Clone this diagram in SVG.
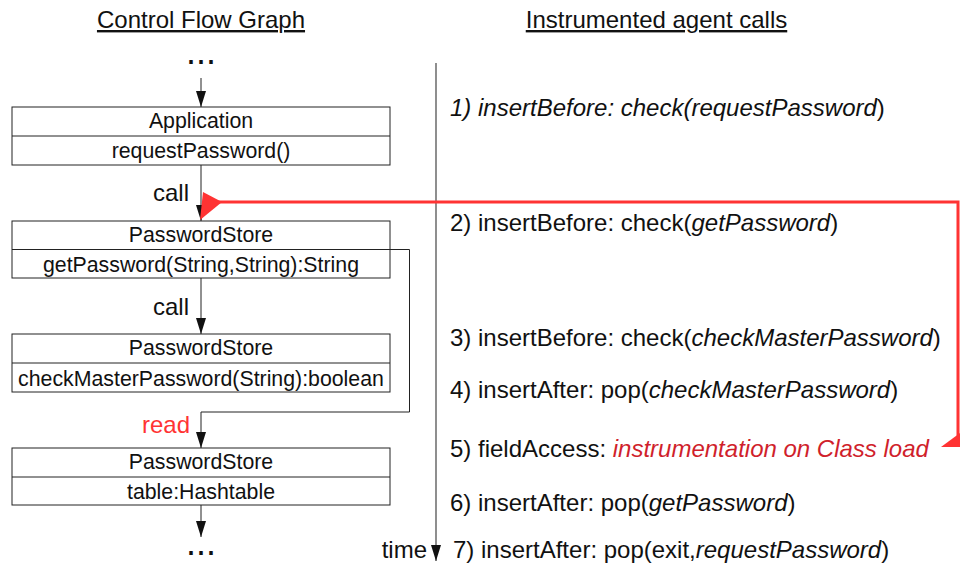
<svg xmlns="http://www.w3.org/2000/svg" width="960" height="567" viewBox="0 0 960 567">
<defs>
<style>
.t{font-family:"Liberation Sans",Arial,sans-serif;fill:#111}
.box{fill:#fff;stroke:#222;stroke-width:1}
.bx{font-size:21.3px;text-anchor:middle}
.it{font-size:24px}
.edge{stroke:#222;stroke-width:1;fill:none}
.i{font-style:italic}
</style>
<marker id="ah" viewBox="0 0 16 10" refX="16" refY="5" markerWidth="16" markerHeight="10" markerUnits="userSpaceOnUse" orient="auto">
<path d="M0,0 L16,5 L0,10 z" fill="#111"/>
</marker>
</defs>
<rect width="960" height="567" fill="#fff"/>

<g id="titles">
<text class="t" x="201" y="28" font-size="24" text-anchor="middle" text-decoration="underline">Control Flow Graph</text>
<text class="t" x="656.5" y="28" font-size="24" text-anchor="middle" text-decoration="underline">Instrumented agent calls</text>
<text class="t" x="201" y="64" font-size="36" text-anchor="middle">...</text>
<text class="t" x="201" y="555" font-size="36" text-anchor="middle">...</text>
</g>

<g id="connectors">
<path class="edge" d="M201,78 V107" marker-end="url(#ah)"/>
<path class="edge" d="M201,165 V221" marker-end="url(#ah)"/>
<path class="edge" d="M201,278 V334" marker-end="url(#ah)"/>
<path class="edge" d="M390,249.5 H409.5 V412 H201 V448" marker-end="url(#ah)"/>
<path class="edge" d="M201,505 V537" marker-end="url(#ah)"/>
<path d="M436,63 V561" stroke="#444" stroke-width="1.2" fill="none" marker-end="url(#ah)"/>
<path d="M958,440 V202 H214" stroke="#ff3333" stroke-width="3" fill="none"/>
<polygon points="941,447 960,433 960,447" fill="#ff3333"/>
<polygon points="203,192 222,202 200,220" fill="#ff3333"/>
<text class="t" x="189" y="201" font-size="24" text-anchor="end">call</text>
<text class="t" x="189" y="315" font-size="24" text-anchor="end">call</text>
<text class="t" x="190" y="433" font-size="24" text-anchor="end" style="fill:#ff3333">read</text>
<text class="t" x="427" y="558" font-size="24" text-anchor="end">time</text>
</g>

<g id="app">
<rect class="box" x="12" y="107" width="378" height="58"/>
<line class="edge" x1="12" y1="136" x2="390" y2="136"/>
<text class="t bx" x="201" y="128">Application</text>
<text class="t bx" x="201" y="158">requestPassword()</text>
</g>

<g id="ps-getpassword">
<rect class="box" x="12" y="221" width="378" height="57"/>
<line class="edge" x1="12" y1="249.5" x2="390" y2="249.5"/>
<text class="t bx" x="201" y="241.5">PasswordStore</text>
<text class="t bx" x="201" y="271.5">getPassword(String,String):String</text>
</g>

<g id="ps-checkmaster">
<rect class="box" x="12" y="334" width="378" height="58"/>
<line class="edge" x1="12" y1="363" x2="390" y2="363"/>
<text class="t bx" x="201" y="355">PasswordStore</text>
<text class="t bx" x="201" y="385.5">checkMasterPassword(String):boolean</text>
</g>

<g id="ps-table">
<rect class="box" x="12" y="448" width="378" height="57"/>
<line class="edge" x1="12" y1="477" x2="390" y2="477"/>
<text class="t bx" x="201" y="468.5">PasswordStore</text>
<text class="t bx" x="201" y="499">table:Hashtable</text>
</g>

<g id="calls">
<text class="t it" x="450" y="116"><tspan class="i">1) insertBefore: check(requestPassword</tspan>)</text>
<text class="t it" x="450" y="231">2) insertBefore: check(<tspan class="i">getPassword</tspan>)</text>
<text class="t it" x="450" y="346">3) insertBefore: check(<tspan class="i">checkMasterPassword</tspan>)</text>
<text class="t it" x="450" y="398">4) insertAfter: pop(<tspan class="i">checkMasterPassword</tspan>)</text>
<text class="t it" x="450" y="457">5) fieldAccess: <tspan class="i" style="fill:#d01f2c">instrumentation on Class load</tspan></text>
<text class="t it" x="450" y="511">6) insertAfter: pop(<tspan class="i">getPassword</tspan>)</text>
<text class="t it" x="453" y="558">7) insertAfter: pop(exit,<tspan class="i">requestPassword</tspan>)</text>
</g>
</svg>
